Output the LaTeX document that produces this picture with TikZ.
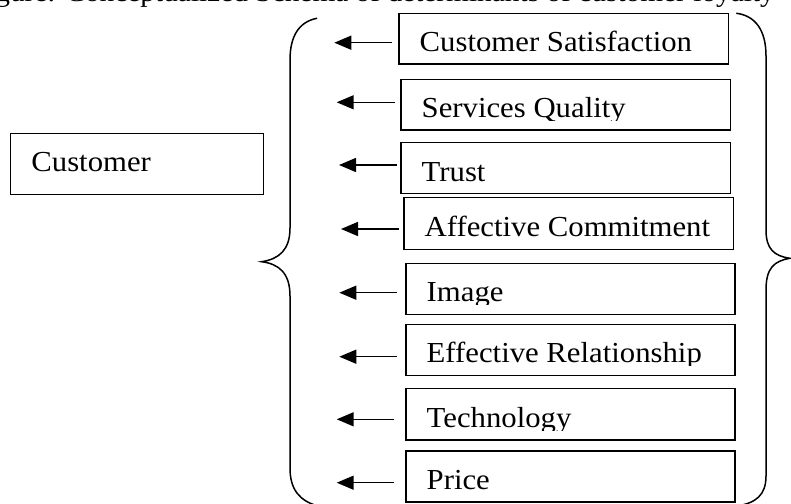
\documentclass[tikz,border=0pt]{standalone}
\usepackage{fontspec}
\setmainfont[FakeStretch=1.06]{Liberation Serif}
\usetikzlibrary{arrows.meta,calc}

\tikzset{
  factorbox/.style={draw, line width=1.4pt, inner sep=0pt, outer sep=0pt, anchor=north west},
  factortext/.style={anchor=base west, inner sep=0pt, font=\fontsize{29}{34}\selectfont},
  captiontext/.style={anchor=base east, inner sep=0pt, font=\fontsize{27.7}{33}\selectfont},
  pointerline/.style={line width=1.5pt, -{Triangle[length=17pt,width=14pt]}},
  bracepath/.style={line width=1.5pt, line cap=round}
}

% #1 name, #2 x, #3 y (top left), #4 width, #5 height, #6 text
% the label is cut off 10pt above the lower edge of its frame
\newcommand\factorframe[6]{%
  \node[factorbox, minimum width=#4pt, minimum height=#5pt] (#1) at (#2,#3) {};
  \begin{scope}
    \clip (#2,#3) rectangle ++(#4,#5-10);
    \node[factortext] (#1-text) at ($(#1.north west)+(20.5,38.3)$) {#6};
  \end{scope}
}

\begin{document}
\begin{tikzpicture}[x=1pt, y=-1pt]
  \useasboundingbox (0,0) rectangle (791,503);
  \clip (0,0) rectangle (791,503);
  \fill[white] (0,0) rectangle (791,503);

  % caption line, only its lower part lies inside the page
  \node[captiontext] (caption) at (775,1.5)
    {Figure: Conceptualized Schema of determinants of customer loyalty};

  % the customer
  \factorframe{customer}{10.7}{133.3}{252.6}{61}{Customer}

  % determinants
  \factorframe{b1}{399}{13.3}{329.3}{50.7}{Customer Satisfaction}
  \factorframe{b2}{401}{79.3}{329.7}{50.7}{Services Quality}
  \factorframe{b3}{401}{142.7}{329.7}{50.6}{Trust}
  \factorframe{b4}{404}{197.7}{329.6}{51.6}{Affective Commitment}
  \factorframe{b5}{406}{263.3}{329}{51}{Image}
  \factorframe{b6}{406}{324.3}{329}{51}{Effective Relationship}
  \factorframe{b7}{406}{388.7}{329}{51.3}{Technology}
  \factorframe{b8}{406}{451}{329}{51}{Price}

  % arrow ends
  \coordinate (s1) at (392.3,42.7);  \coordinate (e1) at (334.3,42.7);
  \coordinate (s2) at (395,102.3);   \coordinate (e2) at (336.7,102.3);
  \coordinate (s3) at (396.7,165);   \coordinate (e3) at (339,165);
  \coordinate (s4) at (399,229);     \coordinate (e4) at (341,229);
  \coordinate (s5) at (396.7,292.7); \coordinate (e5) at (339.3,292.7);
  \coordinate (s6) at (396.7,356.7); \coordinate (e6) at (339.3,356.7);
  \coordinate (s7) at (394.3,419.3); \coordinate (e7) at (336.7,419.3);
  \coordinate (s8) at (394.3,482.7); \coordinate (e8) at (336.7,482.7);
  \foreach \i in {1,...,8} {
    \draw[pointerline] (s\i) -- (e\i);
  }

  % left curly brace
  \draw[bracepath] (316.7,18.3) .. controls (299,22) and (290,36) .. (290,60)
    -- (290,228) .. controls (290,250) and (279,259) .. (261.7,261.7)
    .. controls (279,264) and (290,273) .. (290,296)
    -- (290,468) .. controls (290,490) and (300,501) .. (318,506);

  % right curly brace
  \draw[bracepath] (736.7,13.3) .. controls (756,16) and (766,31) .. (766,56)
    -- (766,230) .. controls (766,249) and (774,256) .. (790,258.3)
    .. controls (774,261) and (766,268) .. (766,290)
    -- (766,476) .. controls (766,495) and (756,503) .. (737,506);
\end{tikzpicture}
\end{document}
